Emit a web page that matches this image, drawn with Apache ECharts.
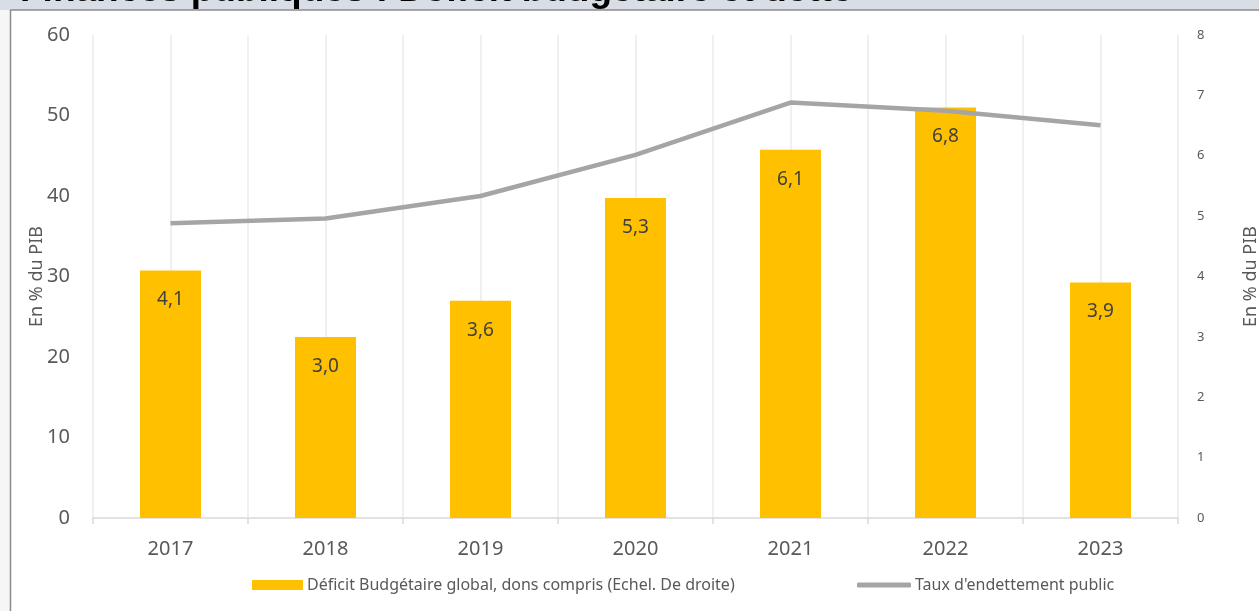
<!DOCTYPE html>
<html><head><meta charset="utf-8">
<script src="https://cdn.jsdelivr.net/npm/echarts@6/dist/echarts.min.js"></script>
<style>html,body{margin:0;padding:0;background:#fff}#c{width:1259px;height:611px}</style>
</head><body><div id="c"></div>
<script>
const years = ['2017','2018','2019','2020','2021','2022','2023'];
const deficit = [4.1, 3.0, 3.6, 5.3, 6.1, 6.8, 3.9];
const debt = [36.6, 37.2, 40.0, 45.1, 51.6, 50.6, 48.8];
const leftTicks = [0, 60, 10];
const rightTicks = [0, 8, 1];
const deficitName = 'Déficit Budgétaire global, dons compris (Echel. De droite)';
const debtName = "Taux d'endettement public";
const title = 'Finances publiques : Déficit budgétaire et dette';

const font = 'Noto Sans';

const chart = echarts.init(document.getElementById('c'));
chart.setOption({
  animation: false,
  textStyle: {fontFamily: font},
  graphic: [
    {type: 'rect', shape: {x: 0, y: 0, width: 1259, height: 10}, style: {fill: '#d9dee6'}, z: 0},
    {type: 'rect', shape: {x: 0, y: 10, width: 10, height: 601}, style: {fill: '#f6f6f6'}, z: 0},
    {type: 'line', shape: {x1: 10, y1: 10, x2: 1259, y2: 10}, style: {stroke: '#8c8c8c', lineWidth: 1.5}, z: 1},
    {type: 'line', shape: {x1: 10.5, y1: 10, x2: 10.5, y2: 611}, style: {stroke: '#8c8c8c', lineWidth: 1.5}, z: 1},
    {type: 'text', left: 20, top: -28, style: {text: title, font: 'bold 37px "Liberation Sans"', fill: '#000'}, z: 0}
  ],
  legend: [
    {data: [{name: deficitName, icon: 'rect'}], left: 247, top: 572, itemWidth: 51, itemHeight: 10, itemGap: 4,
     textStyle: {fontSize: 16, color: '#595959', fontFamily: font, padding: [0, 0, 0, -1]}},
    {data: [{name: debtName, icon: 'roundRect'}], left: 852, top: 572, itemWidth: 54, itemHeight: 5,
     textStyle: {fontSize: 16, color: '#595959', fontFamily: font, padding: [0, 0, 0, -1]}}
  ],
  grid: {left: 93, right: 81, top: 35, bottom: 93, outerBoundsMode: 'none', containLabel: false},
  xAxis: [
    {type: 'category', data: years, boundaryGap: true,
     axisLine: {lineStyle: {color: '#d9d9d9', width: 1.5}},
     axisTick: {show: true, length: 6, lineStyle: {color: '#d9d9d9', width: 1.5}},
     axisLabel: {fontSize: 20, color: '#595959', margin: 21},
     splitLine: {show: false}},
    {type: 'value', min: 0, max: 14, interval: 1, show: true, position: 'bottom',
     axisLine: {show: false}, axisTick: {show: false}, axisLabel: {show: false},
     splitLine: {show: true, lineStyle: {color: '#ebebeb', width: 1.5}}}
  ],
  yAxis: [
    {type: 'value', min: leftTicks[0], max: leftTicks[1], interval: leftTicks[2],
     name: 'En % du PIB', nameLocation: 'middle', nameGap: 47, nameRotate: 90, nameMoveOverlap: false,
     nameTextStyle: {fontSize: 18, color: '#595959'},
     axisLine: {show: false}, axisTick: {show: false}, splitLine: {show: false},
     axisLabel: {fontSize: 20, color: '#595959', margin: 23}},
    {type: 'value', min: rightTicks[0], max: rightTicks[1], interval: rightTicks[2], position: 'right',
     name: 'En % du PIB', nameLocation: 'middle', nameGap: 64, nameRotate: 90, nameMoveOverlap: false,
     nameTextStyle: {fontSize: 18, color: '#595959'},
     axisLine: {show: false}, axisTick: {show: false}, splitLine: {show: false},
     axisLabel: {fontSize: 13, color: '#595959', margin: 19}}
  ],
  series: [
    {name: deficitName, type: 'bar', xAxisIndex: 0, yAxisIndex: 1, data: deficit, barWidth: 61,
     itemStyle: {color: '#FFC000'},
     label: {show: true, position: 'insideTop', distance: 20, fontSize: 19, color: '#404040',
       formatter: p => p.value.toFixed(1).replace('.', ',')}},
    {name: debtName, type: 'line', xAxisIndex: 0, yAxisIndex: 0, data: debt, showSymbol: false, symbol: 'none',
     lineStyle: {color: '#A5A5A5', width: 4.5}, itemStyle: {color: '#A5A5A5'}, z: 3}
  ]
});
</script></body></html>
